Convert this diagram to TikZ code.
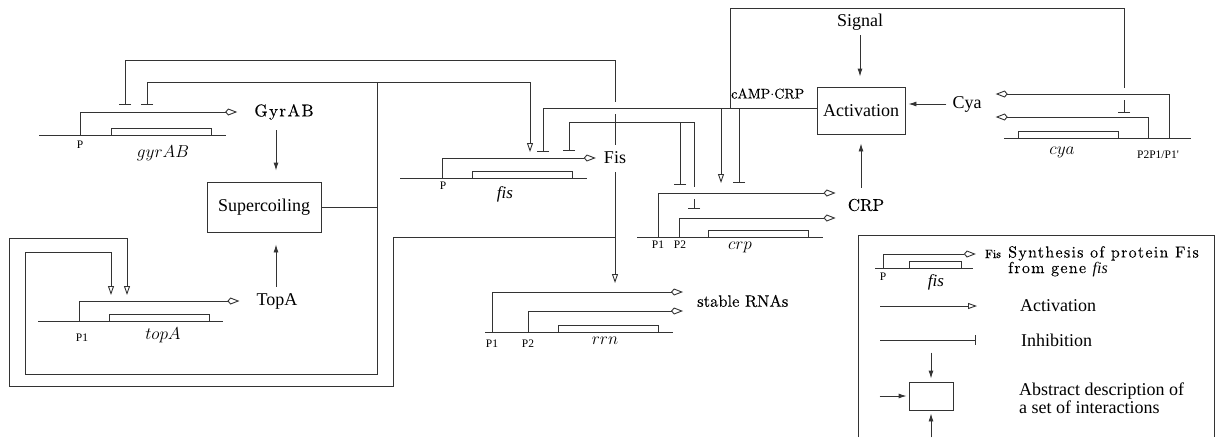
\documentclass[tikz,border=0pt]{standalone}
\usepackage{fontspec}
\newfontfamily\tms{Liberation Serif}
\newfontfamily\cmb{lmroman10-regular.otf}[FakeBold=0.15]
\newfontfamily\cmsp{lmroman10-regular.otf}[FakeBold=0.15, LetterSpace=8]
\usetikzlibrary{positioning, calc, arrows.meta}

% white gap where a vertical wire passes under a horizontal one
\newcommand\crossgap[1]{%
  \fill[white] ($#1+(-3,-6)$) rectangle ($#1+(3,6)$);
  \draw[wire] ($#1+(-5,0)$) -- ($#1+(5,0)$);}

\begin{document}
\begin{tikzpicture}[x=1pt, y=-1pt,
  wire/.style    = {draw=black!80, line width=0.9pt},
  prom/.style    = {wire, -{Kite[open, length=12pt, width=7pt, inset=3pt]}},
  act/.style     = {wire, -{Triangle[open, length=9pt, width=6pt]}},
  inh/.style     = {wire, -{Bar[width=12pt]}},
  arr/.style     = {wire, -{Latex[length=8pt, width=5pt]}},
  block/.style   = {draw=black!80, line width=0.9pt, inner sep=0pt},
  genebox/.style = {draw=black!80, line width=0.9pt, fill=white, inner sep=0pt,
                    minimum width=100pt, minimum height=7pt},
  tlab/.style    = {font=\tms\fontsize{18}{18}\selectfont, inner sep=0pt},
  clab/.style    = {font=\cmsp\fontsize{17}{17}\selectfont, inner sep=0pt},
  gname/.style   = {font=\fontsize{18}{18}\selectfont, inner sep=0pt, anchor=north},
  plab/.style    = {font=\tms\fontsize{11.5}{12}\selectfont, inner sep=0pt, anchor=north},
]
\fill[white] (0,0) rectangle (1221,437);
\useasboundingbox (0,0) rectangle (1221,437);

% gyrAB
\draw[wire] (39,135) -- (226,135);
\node[genebox] (gyrbox) at (161,131.5) {};
\coordinate (gyrP) at (80,135);
\node[clab] (gyr) at (284,112) {GyrAB};
\draw[prom] (gyrP) |- ([xshift=-17pt]gyr.west);
\node[plab] at (80,141) {P};
\node[gname] at (163,145) {$gyrAB$};
\coordinate (gyrI1) at (125,105);
\coordinate (gyrI2) at (147,105);

% topA
\draw[wire] (38,321) -- (223,321);
\node[genebox] (topbox) at (159,317.5) {};
\coordinate (topP) at (79,321);
\node[tlab] (topa) at (277,301) {TopA};
\draw[prom] (topP) |- ([xshift=-17pt]topa.west);
\node[plab] at (82,334) {P1};
\node[gname] at (163,327) {$topA$};
\coordinate (topA1) at (111,295);
\coordinate (topA2) at (127,295);

% supercoiling
\node[block, tlab, minimum width=114pt, minimum height=50pt] (sup) at (264,207) {Supercoiling};
\path ($(gyr.south)+(-8,0)$) coordinate (gyrdn);
\draw[arr, shorten >=11pt] ([yshift=-10pt]gyrdn) -- (gyrdn |- sup.north);
\path ($(topa.north)+(-1,0)$) coordinate (topup);
\draw[arr, shorten >=12pt] ([yshift=6pt]topup) -- (topup |- sup.south);

\coordinate (supj) at (377,207);
\coordinate (supt) at (377,82);
\draw[wire] (sup.east) -- (supj);
\draw[inh] (supj) -- (supt) -| (gyrI2);
\draw[act] (supj) -- (377,374) -- (25,374) -- (25,252) -| (topA1);

% fis
\draw[wire] (400,178) -- (587,178);
\node[genebox] (fisbox) at (522,174.5) {};
\coordinate (fisP) at (442,178);
\node[tlab] (fis) at (615,158) {Fis};
\draw[prom] (fisP) |- ([xshift=-8pt]fis.west);
\node[plab] at (443,182) {P};
\node[gname, font=\tms\itshape\fontsize{17}{17}\selectfont] at (505,186) {fis};
\coordinate (fisA) at (530,152);
\coordinate (fisI1) at (543,152);
\coordinate (fisI2) at (569,151);
\draw[act] (supt) -| (fisA);

% rrn
\draw[wire] (485,332) -- (673,332);
\node[genebox] (rrnbox) at (608,328.5) {};
\coordinate (rrnP1) at (492,332);
\coordinate (rrnP2) at (528,332);
\node[clab, font=\cmb\fontsize{16.5}{17}\selectfont, anchor=west] (rna) at (697,301) {stable RNAs};
\draw[prom] (rrnP1) |- ($(rna.west)+(-14,-9)$);
\draw[prom] (rrnP2) |- ($(rna.west)+(-14,10)$);
\node[plab] at (492,340) {P1};
\node[plab] at (528,340) {P2};
\node[gname] at (605,337) {$rrn$};
\coordinate (rrnA) at (615,283);

% crp
\draw[wire] (637,237) -- (823,237);
\node[genebox] (crpbox) at (758.5,233.5) {};
\coordinate (crpP1) at (658,237);
\coordinate (crpP2) at (679,237);
\node[clab, font=\cmb\fontsize{17}{17}\selectfont] (crp) at (866,205) {CRP};
\draw[prom] (crpP1) |- ($(crp.west)+(-12,-12)$);
\draw[prom] (crpP2) |- ($(crp.west)+(-12,13)$);
\node[plab] at (658,241) {P1};
\node[plab] at (680,241) {P2};
\node[gname] at (740,242) {$crp$};
\coordinate (crpI1) at (680,185);
\coordinate (crpI2) at (694,209);
\coordinate (crpA)  at (721,183);
\coordinate (crpI3) at (739,183);

% Fis links
\coordinate (fisup) at (615,122);
\coordinate (fisdn) at (615,237);
\draw[inh, shorten <=7pt] (fis.north) -- (615,60) -| (gyrI1);
\draw[inh] (fisup) -| (fisI2);
\draw[inh] (fisup) -| (crpI1);
\draw[inh] (fisup) -| (crpI2);
\draw[act, shorten <=8pt] (fis.south) -- (rrnA);
\draw[act] (fisdn) -- (393,237) -- (393,386) -- (9,386) -- (9,238) -| (topA2);

% activation
\node[block, tlab, minimum width=88pt, minimum height=47pt] (actv) at (861,110.5) {Activation};
\node[tlab] (sig) at (860,22) {Signal};
\draw[arr, shorten >=10pt] ([yshift=-5pt]sig.south) -- (sig.south |- actv.north);
\path (crp.north -| actv.south) coordinate (crpup);
\draw[arr, shorten >=9pt] ([yshift=11pt]crpup) -- (actv.south);
\node[tlab] (cya) at (967,104) {Cya};
\draw[arr, shorten >=3pt] ([xshift=-6pt]cya.west) -- (cya.west -| actv.east);

% cya
\draw[wire] (1004,138) -- (1191,138);
\node[genebox] (cyabox) at (1068.5,134.5) {};
\coordinate (cyaP1) at (1169,138);
\coordinate (cyaP2) at (1148,138);
\draw[prom] (cyaP1) |- ($(cya.east)+(14,-10)$);
\draw[prom] (cyaP2) |- ($(cya.east)+(14,13)$);
\node[gname] at (1062,147) {$cya$};
\node[plab] at (1158,151) {P2P1/P1'};
\coordinate (cyaI) at (1124,113);

% cAMP.CRP
\coordinate (campj) at (730,108);
\node[clab, font=\cmb\fontsize{14}{14}\selectfont, anchor=south west] (camp) at (731,99) {cAMP$\cdot$CRP};
\draw[inh] (actv.west |- campj) -- (543,108) -- (fisI1);
\draw[inh] (campj) -- (730,8) -| (cyaI);
\draw[act] (crpA |- campj) -- (crpA);
\draw[inh] (crpI3 |- campj) -- (crpI3);

% crossings
\crossgap{(615,108)}
\crossgap{(694,193)}
\crossgap{(1124,94)}

% legend
\draw[wire] (858,437) |- (1214,235) -- (1214,437);
\draw[wire] (875,268) -- (973,268);
\node[genebox, minimum width=52pt] (legbox) at (935,264.5) {};
\coordinate (legP) at (883,268);
\node[clab, font=\cmb\fontsize{12}{12}\selectfont] (legfis) at (993,254) {Fis};
\draw[prom] (legP) |- ([xshift=-9pt]legfis.west);
\node[plab] at (883,273) {P};
\node[gname, font=\tms\itshape\fontsize{17}{17}\selectfont] at (936,274) {fis};
\node[clab, anchor=north west, align=left, font=\cmsp\fontsize{16}{12}\selectfont] (legsyn) at (1008,246)
  {Synthesis of protein Fis\\from gene {\tms\itshape fis}};

\node[tlab, anchor=west] (legact) at (1020,306) {Activation};
\coordinate (legA) at (880,306);
\draw[act] (legA) -- ([xshift=-43pt]legact.west);
\node[tlab, anchor=west] (leginh) at (1021,340) {Inhibition};
\coordinate (legI) at (880,340);
\draw[wire, -{Bar[width=10pt]}] (legI) -- ([xshift=-45pt]leginh.west);

\node[block, minimum width=44pt, minimum height=28pt] (legbx) at (931,396) {};
\draw[arr, shorten >=3pt] ([yshift=29pt]legbx.north) -- (legbx.north);
\draw[arr, shorten >=2pt] ([xshift=-29pt]legbx.west) -- (legbx.west);
\draw[arr, shorten >=3pt] ([yshift=-27pt]legbx.south) -- (legbx.south);
\node[tlab, anchor=north west, align=left, font=\tms\fontsize{18}{15}\selectfont] (legabs) at (1019,383)
  {Abstract description of\\a set of interactions};
\end{tikzpicture}
\end{document}
